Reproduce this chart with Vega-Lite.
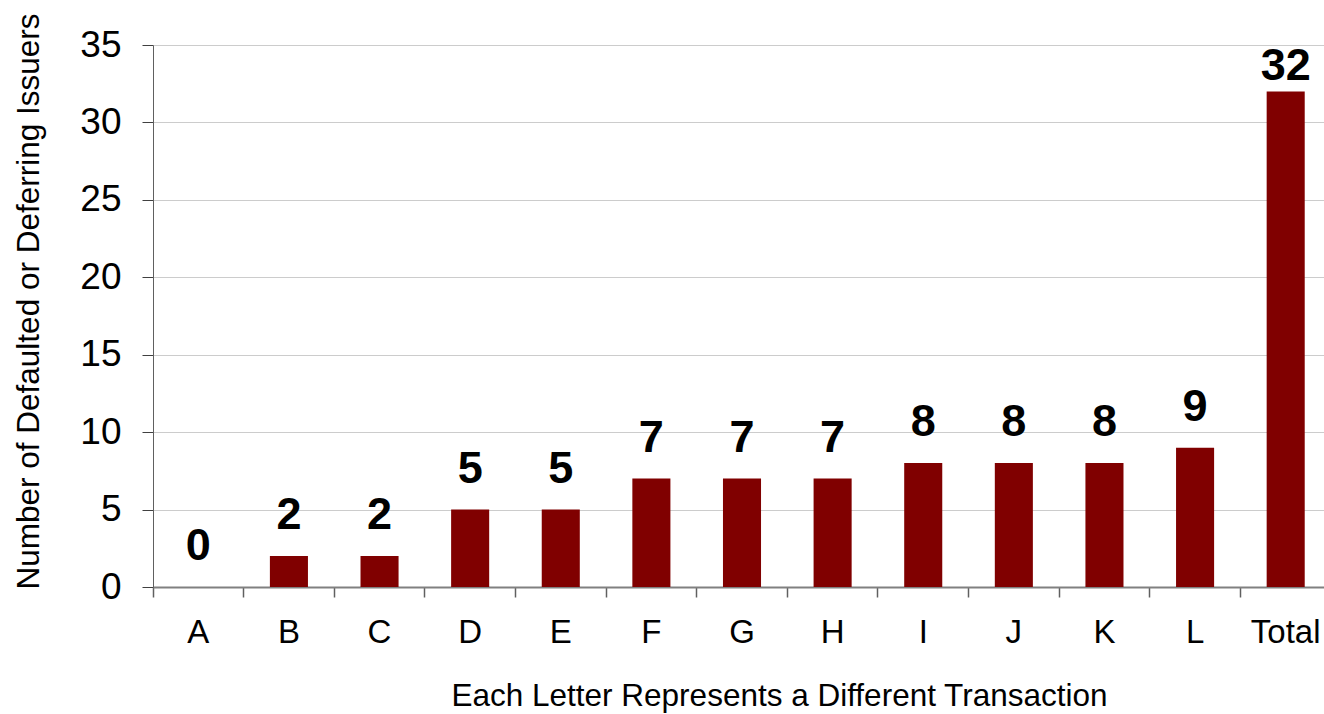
{
  "$schema": "https://vega.github.io/schema/vega-lite/v6.json",
  "autosize": {"type": "none"},
  "padding": {"left": 153, "top": 45, "right": 0, "bottom": 127},
  "width": 1178,
  "height": 542,
  "background": "white",
  "config": {
    "font": "Liberation Sans",
    "view": {"stroke": null}
  },
  "data": {
    "values": [
      {"transaction": "A", "issuers": 0},
      {"transaction": "B", "issuers": 2},
      {"transaction": "C", "issuers": 2},
      {"transaction": "D", "issuers": 5},
      {"transaction": "E", "issuers": 5},
      {"transaction": "F", "issuers": 7},
      {"transaction": "G", "issuers": 7},
      {"transaction": "H", "issuers": 7},
      {"transaction": "I", "issuers": 8},
      {"transaction": "J", "issuers": 8},
      {"transaction": "K", "issuers": 8},
      {"transaction": "L", "issuers": 9},
      {"transaction": "Total", "issuers": 32}
    ]
  },
  "encoding": {
    "x": {
      "field": "transaction",
      "type": "nominal",
      "sort": null,
      "scale": {"paddingInner": 0.58, "paddingOuter": 0.29},
      "axis": {
        "title": "Each Letter Represents a Different Transaction",
        "titleFont": "Liberation Sans",
        "titleFontSize": 31.5,
        "titleFontWeight": "normal",
        "titleColor": "black",
        "titleX": 626,
        "titleY": 118,
        "titleBaseline": "alphabetic",
        "titleAnchor": null,
        "titleAlign": "center",
        "labelAngle": 0,
        "labelFontSize": 33,
        "labelColor": "black",
        "labelPadding": 19,
        "bandPosition": -0.69,
        "tickSize": 10,
        "tickColor": "#606060",
        "tickWidth": 1.5,
        "domainColor": "#808080",
        "domainWidth": 2,
        "grid": false
      }
    },
    "y": {
      "field": "issuers",
      "type": "quantitative",
      "scale": {"domain": [0, 35], "nice": false},
      "axis": {
        "title": "Number of Defaulted or Deferring Issuers",
        "titleFont": "Liberation Sans",
        "titleFontSize": 31.5,
        "titleFontWeight": "normal",
        "titleColor": "black",
        "titleY": 256,
        "titleX": -140,
        "titleBaseline": "top",
        "titleAnchor": null,
        "values": [0, 5, 10, 15, 20, 25, 30, 35],
        "labelFontSize": 37,
        "labelColor": "black",
        "labelPadding": 21,
        "tickSize": 11,
        "tickColor": "#404040",
        "domainColor": "#606060",
        "grid": true,
        "gridColor": "#cccccc",
        "gridWidth": 1
      }
    }
  },
  "layer": [
    {
      "mark": {"type": "bar", "color": "#800000"}
    },
    {
      "transform": [{"filter": "datum.transaction !== 'Total'"}],
      "mark": {"type": "text", "fontSize": 45, "fontWeight": "bold", "color": "black", "baseline": "alphabetic", "dy": -27},
      "encoding": {"text": {"field": "issuers", "type": "quantitative"}}
    },
    {
      "transform": [{"filter": "datum.transaction === 'Total'"}],
      "mark": {"type": "text", "fontSize": 45, "fontWeight": "bold", "color": "black", "baseline": "alphabetic", "dy": -11},
      "encoding": {"text": {"field": "issuers", "type": "quantitative"}}
    }
  ]
}
